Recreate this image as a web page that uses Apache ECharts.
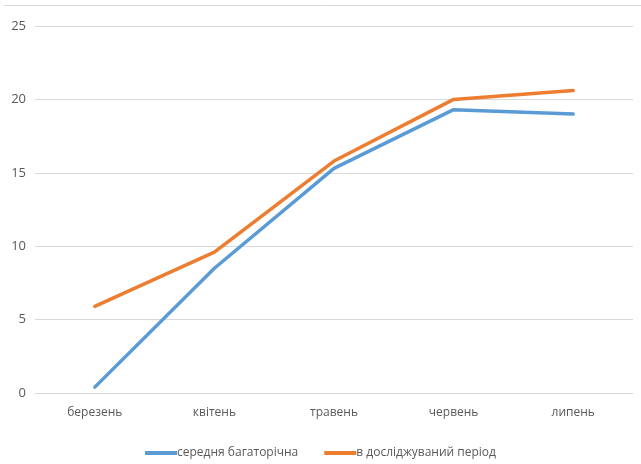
<!DOCTYPE html>
<html>
<head>
<meta charset="utf-8">
<script src="https://cdn.jsdelivr.net/npm/echarts@6/dist/echarts.min.js"></script>
<style>
html,body{margin:0;padding:0;background:#fff;}
#chart{width:641px;height:464px;}
</style>
</head>
<body>
<div id="chart"></div>
<script>
var categories = ['березень', 'квітень', 'травень', 'червень', 'липень'];
var seriesNames = ['середня багаторічна', 'в досліджуваний період'];
var longTermAvg = [0.4, 8.5, 15.3, 19.3, 19.0];
var studyPeriod = [5.9, 9.6, 15.8, 20.0, 20.6];
var yTicks = [0, 5, 10, 15, 20, 25];

var FONT = '"Open Sans", "Noto Sans", sans-serif';
var chart = echarts.init(document.getElementById('chart'), null, {renderer: 'canvas'});
chart.setOption({
  backgroundColor: '#ffffff',
  animation: false,
  textStyle: {fontFamily: FONT},
  graphic: [{
    type: 'line',
    shape: {x1: 4, y1: 5.5, x2: 641, y2: 5.5},
    style: {stroke: '#d9d9d9', lineWidth: 1}
  }],
  grid: {left: 35, right: 8, top: 26, bottom: 71, containLabel: false},
  legend: {
    bottom: 0,
    left: 'center',
    itemWidth: 32,
    itemHeight: 4,
    itemGap: 26,
    icon: 'rect',
    textStyle: {color: '#595959', fontSize: 12, fontFamily: FONT, padding: [0, 0, 0, -5]},
    data: seriesNames
  },
  xAxis: {
    type: 'category',
    data: categories,
    boundaryGap: true,
    axisLine: {show: true, lineStyle: {color: '#d9d9d9', width: 1}},
    axisTick: {show: false},
    axisLabel: {color: '#595959', fontSize: 12, margin: 14, fontFamily: FONT}
  },
  yAxis: {
    type: 'value',
    min: yTicks[0],
    max: yTicks[yTicks.length - 1],
    interval: 5,
    axisLine: {show: false},
    axisTick: {show: false},
    axisLabel: {color: '#595959', fontSize: 13, margin: 9, fontFamily: FONT},
    splitLine: {lineStyle: {color: '#d9d9d9', width: 1}}
  },
  series: [
    {
      name: seriesNames[0],
      type: 'line',
      data: longTermAvg,
      symbol: 'none',
      color: '#5b9bd5',
      lineStyle: {width: 3.5, color: '#5b9bd5', cap: 'round', join: 'round'}
    },
    {
      name: seriesNames[1],
      type: 'line',
      data: studyPeriod,
      symbol: 'none',
      color: '#ed7d31',
      lineStyle: {width: 3.5, color: '#ed7d31', cap: 'round', join: 'round'}
    }
  ]
});
</script>
</body>
</html>
